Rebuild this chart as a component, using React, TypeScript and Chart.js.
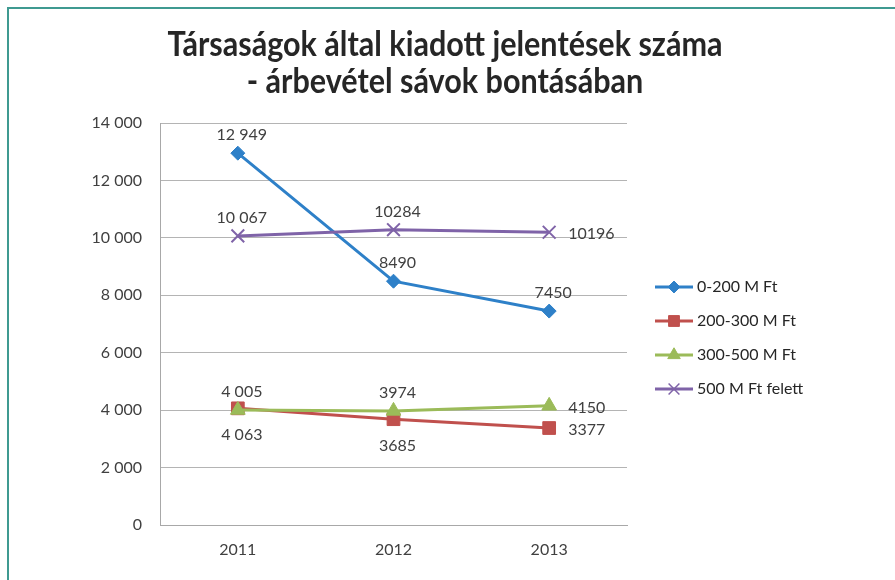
import React, { useEffect, useRef } from "react";
import { Chart, registerables } from "chart.js";
import { drawPoint } from "chart.js/helpers";

Chart.register(...registerables);

const years = ["2011", "2012", "2013"];
const seriesNames = ["0-200 M Ft", "200-300 M Ft", "300-500 M Ft", "500 M Ft felett"];
const values0to200 = [12949, 8490, 7450];
const values200to300 = [4063, 3685, 3377];
const values300to500 = [4005, 3974, 4150];
const values500plus = [10067, 10284, 10196];
const labels0to200 = ["12 949", "8490", "7450"];
const labels200to300 = ["4 063", "3685", "3377"];
const labels300to500 = ["4 005", "3974", "4150"];
const labels500plus = ["10 067", "10284", "10196"];
const labelPos0to200 = ["above", "above", "above"];
const labelPos200to300 = ["below", "below", "right"];
const labelPos300to500 = ["above", "above", "right"];
const labelPos500plus = ["above", "above", "right"];
const titleLines = ["Társaságok által kiadott jelentések száma", "- árbevétel sávok bontásában"];
const yMin = 0;
const yMax = 14000;
const yStep = 2000;

const FONT = "Lato, 'Open Sans', 'DejaVu Sans', sans-serif";
const TEXT = "#404040";

const colors = ["#2e80c8", "#c0504d", "#9bbb59", "#7f63a8"];
const pointStyles = ["rectRot", "rect", "triangle", "crossRot"];
const pointRadii = [7, 9, 8.5, 9];

const fmt = (v: number) => {
  const s = String(Math.round(v));
  return s.replace(/\B(?=(\d{3})+(?!\d))/g, " ");
};

const titlePlugin = {
  id: "titleDraw",
  afterDraw(chart: any) {
    const ctx = chart.ctx;
    ctx.save();
    ctx.fillStyle = "#262626";
    ctx.textAlign = "center";
    ctx.textBaseline = "middle";
    ctx.font = `bold 34px ${FONT}`;
    const w = ctx.measureText(titleLines[0]).width;
    const sx = Math.min(1, 555 / w);
    const cx = 445;
    const ys = [45, 82];
    titleLines.forEach((t, i) => {
      ctx.save();
      ctx.translate(cx, ys[i]);
      ctx.scale(sx, 1);
      ctx.fillText(t, 0, 0);
      ctx.restore();
    });
    ctx.restore();
  },
};

const labelsPlugin = {
  id: "dataLabels",
  afterDatasetsDraw(chart: any) {
    const ctx = chart.ctx;
    const allLabels = [labels0to200, labels200to300, labels300to500, labels500plus];
    const allPos = [labelPos0to200, labelPos200to300, labelPos300to500, labelPos500plus];
    ctx.save();
    ctx.font = `16px ${FONT}`;
    ctx.fillStyle = TEXT;
    ctx.textBaseline = "middle";
    chart.data.datasets.forEach((_: any, i: number) => {
      const meta = chart.getDatasetMeta(i);
      meta.data.forEach((pt: any, j: number) => {
        const pos = allPos[i][j];
        const txt = allLabels[i][j];
        if (pos === "above") {
          ctx.textAlign = "center";
          ctx.fillText(txt, pt.x + 4, pt.y - 18);
        } else if (pos === "below") {
          ctx.textAlign = "center";
          ctx.fillText(txt, pt.x + 4, pt.y + 27);
        } else {
          ctx.textAlign = "left";
          ctx.fillText(txt, pt.x + 19, pt.y + 2);
        }
      });
    });
    ctx.restore();
  },
};

const legendPlugin = {
  id: "legendDraw",
  afterDraw(chart: any) {
    const ctx = chart.ctx;
    const x0 = 655;
    const x1 = 693;
    const y0 = 287;
    const dy = 34;
    ctx.save();
    chart.data.datasets.forEach((ds: any, i: number) => {
      const y = y0 + i * dy;
      ctx.strokeStyle = colors[i];
      ctx.lineWidth = 3;
      ctx.beginPath();
      ctx.moveTo(x0, y);
      ctx.lineTo(x1, y);
      ctx.stroke();
      ctx.fillStyle = colors[i];
      ctx.strokeStyle = colors[i];
      ctx.lineWidth = i === 3 ? 1.5 : 1;
      drawPoint(ctx, { pointStyle: pointStyles[i], radius: pointRadii[i] * 0.85, borderWidth: i === 3 ? 1.5 : 1 } as any, (x0 + x1) / 2, y);
      ctx.fillStyle = "#262626";
      ctx.font = `16px ${FONT}`;
      ctx.textAlign = "left";
      ctx.textBaseline = "middle";
      ctx.fillText(ds.label, x1 + 4, y);
    });
    ctx.restore();
  },
};

export default function App() {
  const ref = useRef<HTMLCanvasElement>(null);

  useEffect(() => {
    if (!ref.current) return;
    const seriesValues = [values0to200, values200to300, values300to500, values500plus];
    const chart = new Chart(ref.current, {
      type: "line",
      data: {
        labels: years,
        datasets: seriesNames.map((name, i) => ({
          label: name,
          data: seriesValues[i],
          order: 4 - i,
          borderColor: colors[i],
          backgroundColor: colors[i],
          borderWidth: 3,
          pointStyle: pointStyles[i] as any,
          pointRadius: pointRadii[i],
          pointBorderWidth: i === 3 ? 2 : 1,
          pointBackgroundColor: colors[i],
          pointBorderColor: colors[i],
          tension: 0,
          fill: false,
        })),
      },
      options: {
        responsive: false,
        animation: false,
        events: [],
        layout: { padding: { top: 123, right: 268, left: 0, bottom: 0 } },
        plugins: {
          legend: { display: false },
          title: { display: false },
          tooltip: { enabled: false },
        },
        scales: {
          x: {
            offset: true,
            grid: { display: false, drawTicks: false },
            border: { display: true, color: "#a8a8a8", width: 1 },
            ticks: { color: TEXT, font: { family: FONT, size: 16 }, padding: 15, maxRotation: 0 },
            afterFit: (s: any) => {
              s.height = 55;
            },
          },
          y: {
            min: yMin,
            max: yMax,
            ticks: {
              stepSize: yStep,
              color: TEXT,
              font: { family: FONT, size: 16 },
              padding: 18,
              callback: (v: any) => fmt(Number(v)),
            },
            grid: { color: "#b4b4b4", lineWidth: 1, drawTicks: false },
            border: { display: true, color: "#a8a8a8", width: 1 },
            afterFit: (s: any) => {
              s.width = 160;
            },
          },
        },
      },
      plugins: [labelsPlugin, legendPlugin, titlePlugin],
    });
    return () => chart.destroy();
  }, []);

  return (
    <div
      style={{
        position: "fixed",
        left: 0,
        top: 0,
        width: 895,
        height: 580,
        overflow: "hidden",
        background: "#ffffff",
      }}
    >
      <canvas ref={ref} width={895} height={580} style={{ position: "absolute", left: 0, top: 0 }} />
      <div
        style={{
          position: "absolute",
          left: 7,
          top: 7,
          width: 1000,
          height: 1000,
          borderTop: "2px solid #3f9a91",
          borderLeft: "2px solid #3f9a91",
          pointerEvents: "none",
        }}
      />
    </div>
  );
}
